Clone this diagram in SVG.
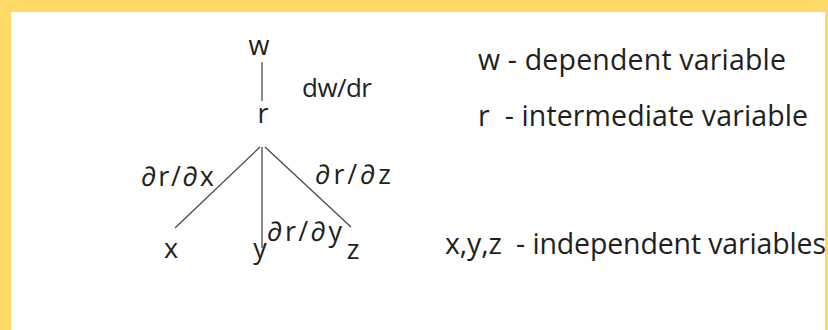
<svg xmlns="http://www.w3.org/2000/svg" width="828" height="330" viewBox="0 0 828 330">
<style>
text{font-family:"Open Sans","DejaVu Sans",sans-serif;fill:#231f20;white-space:pre}
.n{font-size:27px;text-anchor:middle}
.d{font-size:26px}
.l{font-size:27px}
.k{font-size:28.5px}
.c line{stroke:#4a4a4a;stroke-width:1.3}
</style>
<rect x="0" y="0" width="828" height="330" fill="#ffd966"/>
<rect x="11" y="12" width="814" height="318" fill="#ffffff"/>
<g class="c" id="connectors">
<line x1="262" y1="62" x2="262" y2="101"/>
<line x1="260" y1="147" x2="175" y2="228"/>
<line x1="262" y1="147" x2="262" y2="248"/>
<line x1="265" y1="147" x2="351" y2="227"/>
</g>
<g id="w"><text class="n" x="259" y="55">w</text></g>
<g id="r"><text class="n" x="263" y="123">r</text></g>
<g id="x"><text class="n" x="171" y="258">x</text></g>
<g id="y"><text class="n" x="260" y="258">y</text></g>
<g id="z"><text class="n" x="353" y="259">z</text></g>
<g id="labels">
<text class="d" x="302" y="97" textLength="70">dw/dr</text>
<text class="l" x="141" y="186" textLength="73">∂r/∂x</text>
<text class="l" x="315" y="184" textLength="76">∂r/∂z</text>
<text class="l" x="267" y="241" textLength="75">∂r/∂y</text>
</g>
<g id="legend">
<text class="k" x="478" y="70" textLength="308">w - dependent variable</text>
<text class="k" x="478" y="126" textLength="330">r  - intermediate variable</text>
<text class="k" x="445" y="254" textLength="381">x,y,z  - independent variables</text>
</g>
</svg>
